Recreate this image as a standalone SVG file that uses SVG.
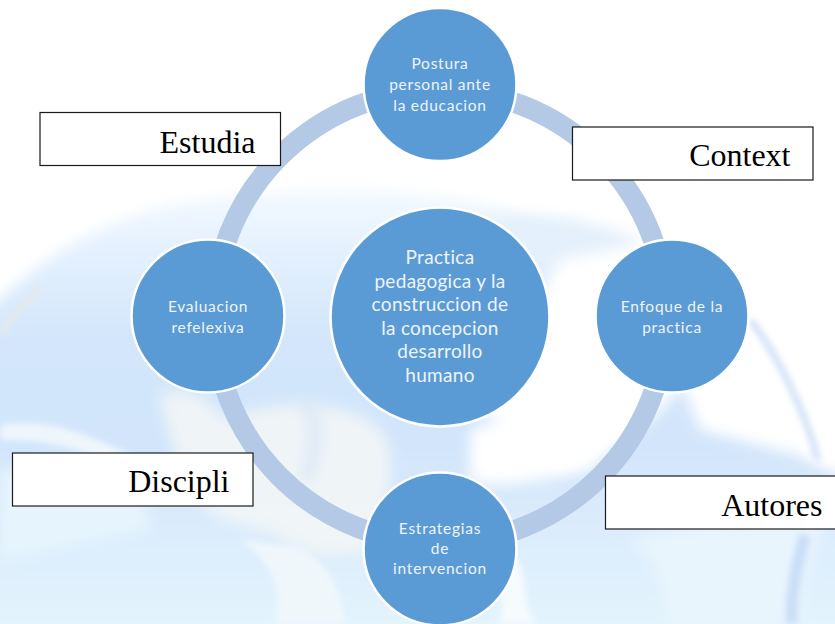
<svg xmlns="http://www.w3.org/2000/svg" width="835" height="624" viewBox="0 0 835 624">
<style>
.node{fill:#5b9bd5;stroke:#fff;stroke-width:2.6}
.t{font-family:"Lato","Carlito","Open Sans",sans-serif;fill:#eef4fb;text-anchor:middle}
.s{font-size:15.5px;letter-spacing:.75px}
.b{font-size:19px;letter-spacing:.3px}
.box{fill:#fff;stroke:#1a1a1a;stroke-width:1.2}
.l{font-family:"Liberation Serif",serif;font-size:32px;fill:#000;text-anchor:end}
</style>
<defs>
<linearGradient id="sea" gradientUnits="userSpaceOnUse" x1="0" y1="180" x2="0" y2="624">
<stop offset="0" stop-color="#f8fbff"/>
<stop offset=".12" stop-color="#e8f3fe"/>
<stop offset=".35" stop-color="#d3e6fb"/>
<stop offset=".6" stop-color="#d2e5fb"/>
<stop offset=".8" stop-color="#dcecfc"/>
<stop offset="1" stop-color="#e3f4fd"/>
</linearGradient>
<filter id="bl" filterUnits="userSpaceOnUse" x="-60" y="-60" width="955" height="744"><feGaussianBlur stdDeviation="7"/></filter>
<filter id="bs" filterUnits="userSpaceOnUse" x="-60" y="-60" width="955" height="744"><feGaussianBlur stdDeviation="3"/></filter>
</defs>
<g id="background">
<rect width="835" height="624" fill="#fff"/>
<path d="M-20 320C30 265 90 225 170 205C280 185 420 180 520 215C560 240 620 250 650 300L700 430L855 470V644H-20Z" fill="url(#sea)" filter="url(#bl)"/>
<path d="M430 250C480 205 560 205 640 240L625 270C560 265 490 270 430 250Z" fill="#e4f0fb" filter="url(#bl)"/>
<path d="M560 260L855 200V480L810 460L750 310L700 370L640 430L560 470L480 410Z" fill="#fff" filter="url(#bl)"/>
<path d="M470 430C520 410 600 390 640 420L590 470C540 480 500 490 470 480Z" fill="#fff" filter="url(#bl)"/>
<path d="M160 395C190 385 210 400 225 420C270 400 350 395 385 435C400 470 380 510 375 545C345 560 320 555 290 545C260 520 225 530 205 505C180 480 170 440 160 395Z" fill="#f2f6f6" fill-opacity=".9" filter="url(#bl)"/>
<path d="M305 400C320 420 315 460 305 480" fill="none" stroke="#dbe7f6" stroke-width="12" filter="url(#bl)"/>
<path d="M240 540C270 560 285 590 275 624H345C340 590 330 565 300 548Z" fill="#f0f7fb" filter="url(#bs)"/>
<path d="M0 425C40 420 70 425 130 455L120 470C80 445 40 440 0 440Z" fill="#eef6fb" filter="url(#bs)"/>
<path d="M0 470C30 465 80 480 140 490L150 530L0 560Z" fill="#e6f5fd" filter="url(#bl)"/>
<path d="M515 555C530 580 520 600 535 624H500C505 600 500 580 490 560Z" fill="#f6fbfe" filter="url(#bs)"/>
<path d="M625 540C655 550 665 590 670 624H800C800 590 810 560 825 520C760 520 690 525 625 540Z" fill="#e9f5fd" filter="url(#bl)"/>
<path d="M750 320C775 350 805 410 818 460" fill="none" stroke="#d3e2f6" stroke-width="7" filter="url(#bs)"/>
<path d="M805 535C795 570 790 600 792 624" fill="none" stroke="#c9def7" stroke-width="12" filter="url(#bs)"/>
<path d="M0 335C10 320 28 300 42 288" fill="none" stroke="#e4e9ec" stroke-width="7" filter="url(#bs)"/>
</g>
<g id="connectors">
<circle cx="440" cy="316.500" r="226.500" fill="none" stroke="#b4c9e6" stroke-width="20.500"/>
</g>
<g id="node-center"><circle class="node" cx="440" cy="317" r="109.500"/>
<text class="t b" x="440" y="264">Practica</text><text class="t b" x="440" y="288">pedagogica y la</text><text class="t b" x="440" y="311">construccion de</text><text class="t b" x="440" y="335">la concepcion</text><text class="t b" x="440" y="358">desarrollo</text><text class="t b" x="440" y="382">humano</text></g>
<g id="node-top"><circle class="node" cx="440" cy="84.500" r="76.500"/>
<text class="t s" x="440" y="69">Postura</text><text class="t s" x="440" y="90">personal ante</text><text class="t s" x="440" y="111">la educacion</text></g>
<g id="node-right"><circle class="node" cx="672" cy="316" r="76.500"/>
<text class="t s" x="672" y="312">Enfoque de la</text><text class="t s" x="672" y="333">practica</text></g>
<g id="node-bottom"><circle class="node" cx="440" cy="549" r="76.500"/>
<text class="t s" x="440" y="534">Estrategias</text><text class="t s" x="440" y="554">de</text><text class="t s" x="440" y="574">intervencion</text></g>
<g id="node-left"><circle class="node" cx="208" cy="316" r="76.500"/>
<text class="t s" x="208" y="312">Evaluacion</text><text class="t s" x="208" y="333">refelexiva</text></g>
<g id="box-estudia"><rect class="box" x="40" y="112.500" width="240.500" height="53"/><text class="l" x="255.500" y="153">Estudia</text></g>
<g id="box-context"><rect class="box" x="572.500" y="127" width="240.500" height="53"/><text class="l" x="790.500" y="166">Context</text></g>
<g id="box-discipli"><rect class="box" x="12.500" y="453" width="240.500" height="53"/><text class="l" x="229.500" y="492">Discipli</text></g>
<g id="box-autores"><rect class="box" x="605.500" y="476" width="240" height="53"/><text class="l" x="822.500" y="516">Autores</text></g>
</svg>
